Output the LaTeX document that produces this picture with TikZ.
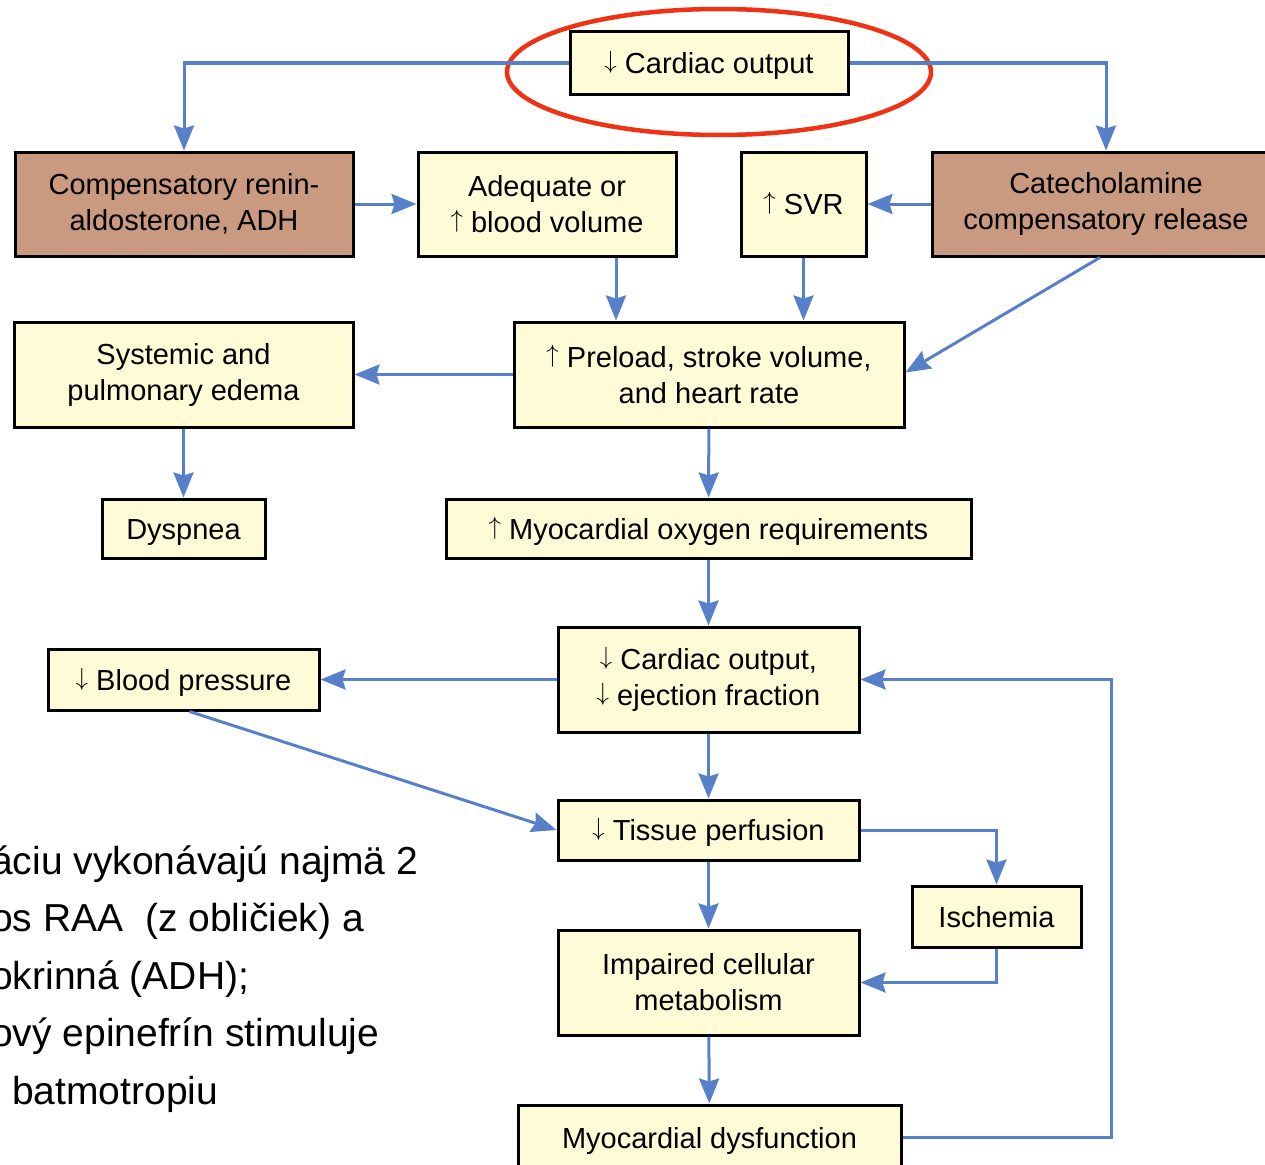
\documentclass[tikz,border=0pt]{standalone}
\usepackage{fontspec}
\setmainfont{Liberation Sans}
\usetikzlibrary{arrows.meta,positioning}
\definecolor{boxyellow}{RGB}{255,251,214}
\definecolor{boxbrown}{RGB}{201,154,128}
\definecolor{flowblue}{RGB}{88,128,200}
\definecolor{markred}{RGB}{240,50,20}
\newcommand{\up}{\raisebox{0.17em}{$\uparrow$}}
\newcommand{\down}{\raisebox{0.17em}{$\downarrow$}}

\begin{document}
\begin{tikzpicture}[x=1pt,y=-1pt,font=\fontsize{29}{36}\selectfont,
    box/.style={draw=black,line width=3pt,fill=boxyellow,align=center,inner sep=0pt},
    single/.style={box,text height=21pt,text depth=0pt},
    comp/.style={box,fill=boxbrown},
    flow/.style={color=flowblue,line width=3pt,-{Stealth[length=25pt,width=20pt,inset=3pt]}}]
       \useasboundingbox (0,0) rectangle (1265,1164);
       \clip (0,0) rectangle (1265,1164);
       \node[single,minimum width=278pt,minimum height=62pt] (co) at (709,63) {\down\ Cardiac output};
       \node[comp,minimum width=338pt,minimum height=104pt] (renin) at (184,204) {Compensatory renin-\\aldosterone, ADH};
       \node[box,minimum width=258pt,minimum height=104pt] (volume) at (547,204) {Adequate or\\\up\ blood volume};
       \node[single,minimum width=125pt,minimum height=104pt] (svr) at (803.5,204) {\up\ SVR};
       \node[comp,minimum width=348pt,minimum height=104pt] (cate) at (1106,204) {Catecholamine\\compensatory release};
       \node[box,minimum width=390pt,minimum height=105pt] (preload) at (709,374.5) {\up\ Preload, stroke volume,\\and heart rate};
       \node[box,minimum width=339pt,minimum height=105pt] (edema) at (183.5,374.5) {Systemic and\\pulmonary edema};
       \node[single,minimum width=163pt,minimum height=59pt] (dyspnea) at (183.5,528.5) {Dyspnea};
       \node[single,minimum width=525pt,minimum height=59pt] (oxygen) at (708.5,528.5) {\up\ Myocardial oxygen requirements};
       \node[box,minimum width=301pt,minimum height=105pt] (output) at (708.5,679.5) {\down\ Cardiac output,\\\down\ ejection fraction};
       \node[single,minimum width=271pt,minimum height=61pt] (pressure) at (183.5,679.5) {\down\ Blood pressure};
       \node[single,minimum width=301pt,minimum height=60pt] (perfusion) at (708.5,830) {\down\ Tissue perfusion};
       \node[single,minimum width=169pt,minimum height=61pt] (ischemia) at (996.5,916.5) {Ischemia};
       \node[box,minimum width=301pt,minimum height=105pt] (metabolism) at (708.5,982.5) {Impaired cellular\\metabolism};
       \node[single,minimum width=383pt,minimum height=65pt] (dysfunction) at (709.5,1137.5) {Myocardial dysfunction};
       % cut-off note on the left
       \node[anchor=base west,align=left,inner sep=0pt,font=\fontsize{39}{57.5}\selectfont] (note) at (-9,1104)
            {áciu vykonávajú najmä 2\\os RAA\ \ (z obličiek) a\\okrinná (ADH);\\ový epinefrín stimuluje\\\hspace*{21pt}batmotropiu};
       \draw[markred,line width=4.5pt] (719,72) ellipse [x radius=212,y radius=63];
       % connectors
       \draw[flow] (co.west) -| (renin.north);
       \draw[flow] (co.east) -| (cate.north);
       \draw[flow] (renin) -- (volume);
       \draw[flow] (cate) -- (svr);
       \draw[flow] ([xshift=69pt]volume.south) -- ([xshift=-93pt]preload.north);
       \draw[flow] (svr.south) -- (svr.south |- preload.north);
       \draw[flow] ([xshift=-6pt]cate.south) -- ([yshift=2pt]preload.east);
       \draw[flow] (preload) -- (edema);
       \draw[flow] (edema) -- (dyspnea);
       \draw[flow] (preload) -- (oxygen);
       \draw[flow] (oxygen) -- (output);
       \draw[flow] (output) -- (pressure);
       \draw[flow] (output) -- (perfusion);
       \draw[flow] ([xshift=6pt]pressure.south) -- (perfusion.west);
       \draw[flow] (perfusion) -- (metabolism);
       \draw[flow] (perfusion.east) -| (ischemia.north);
       \draw[flow] (ischemia.south) |- (metabolism.east);
       \draw[flow] (metabolism) -- (dysfunction);
       \draw[flow] (dysfunction.east) -- ++(209,0) |- (output.east);
\end{tikzpicture}
\end{document}
